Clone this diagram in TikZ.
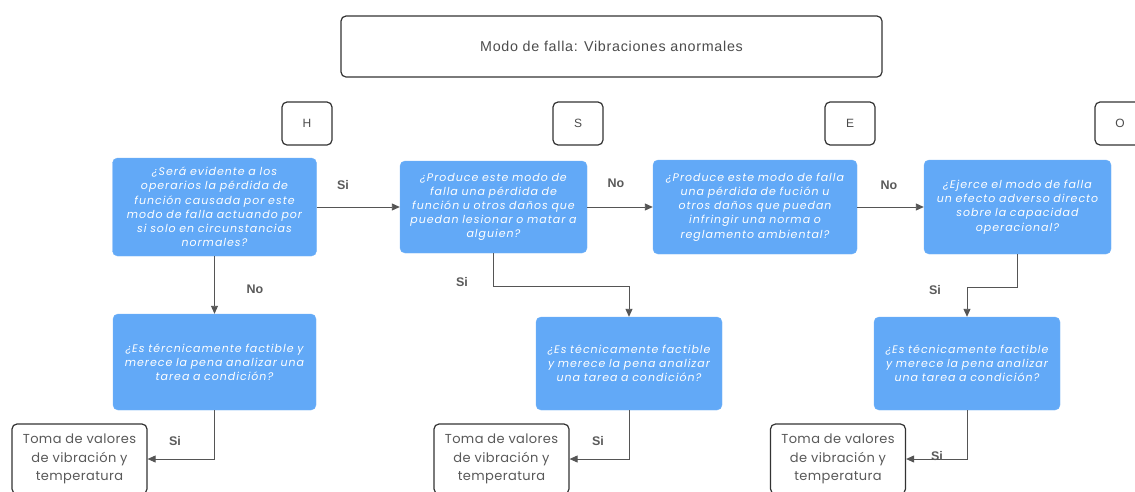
\documentclass[tikz,border=0pt]{standalone}
\usepackage{fontspec}
\setmainfont{Poppins}
\newfontfamily\qfont[LetterSpace=9]{Poppins}
\newfontfamily\rfont[LetterSpace=3]{Poppins}
\newfontfamily\titlefont[LetterSpace=5]{Liberation Sans}
\newfontfamily\tagfont{Liberation Sans}
\usetikzlibrary{arrows.meta}
\definecolor{qblue}{HTML}{62A9F7}
\definecolor{edge}{HTML}{333333}
\definecolor{wire}{HTML}{555555}
\definecolor{lbl}{HTML}{5A5A5A}
\begin{document}
\begin{tikzpicture}[x=1pt,y=-1pt,
  question/.style={fill=qblue, draw=qblue!90!white, rounded corners=5pt, inner sep=0pt,
    align=center, text=white, font=\qfont\fontsize{11}{14.2}\selectfont\itshape},
  framebox/.style={draw=edge, line width=1.2pt, rounded corners=5pt, fill=white, inner sep=0pt,
    align=center},
  letterbox/.style={framebox, minimum width=50pt, minimum height=43pt,
    text=black!70, font=\titlefont\fontsize{12}{14}\selectfont},
  resultbox/.style={framebox, minimum width=135pt, minimum height=70pt,
    text=black!65, font=\rfont\fontsize{13}{18.8}\selectfont},
  wirearrow/.style={draw=wire, line width=0.9pt, -{Triangle[length=8pt,width=7pt]}},
  tag/.style={text=lbl, font=\tagfont\bfseries\fontsize{12.5}{14}\selectfont}]
\clip (0,0) rectangle (1135,491);
\useasboundingbox (0,0) rectangle (1135,491);
\fill[white] (0,0) rectangle (1135,491);

% header and category letters
\node[framebox, minimum width=541pt, minimum height=61pt, text=black!70,
  font=\titlefont\fontsize{14.3}{17}\selectfont] (title) at (611.5,46.5) {Modo de falla: Vibraciones anormales};
\node[letterbox] (H) at (307,123.5) {H};
\node[letterbox] (S) at (578,123.5) {S};
\node[letterbox] (E) at (850,123.5) {E};
\node[letterbox] (O) at (1120,123.5) {O};

% decision questions
\node[question, minimum width=204pt, minimum height=98pt, text width=200pt] (q1) at (214.5,207)
  {¿Será evidente a los\\operarios la pérdida de\\función causada por este\\modo de falla actuando por\\si solo en circunstancias\\normales?};
\node[question, minimum width=187pt, minimum height=92pt, text width=184pt] (q2) at (493.5,207)
  {¿Produce este modo de\\falla una pérdida de\\función u otros daños que\\puedan lesionar o matar a\\alguien?};
\node[question, minimum width=204pt, minimum height=94pt, text width=200pt] (q3) at (755,207)
  {¿Produce este modo de falla\\una pérdida de fución u\\otros daños que puedan\\infringir una norma o\\reglamento ambiental?};
\node[question, minimum width=187pt, minimum height=94pt, text width=184pt] (q4) at (1017.5,207)
  {¿Ejerce el modo de falla\\un efecto adverso directo\\sobre la capacidad\\operacional?};

% condition-based task questions
\node[question, minimum width=203pt, minimum height=96pt, text width=200pt] (t1) at (214.5,362)
  {¿Es tércnicamente factible y\\merece la pena analizar una\\tarea a condición?};
\node[question, minimum width=186pt, minimum height=93pt, text width=184pt] (t2) at (629,363.5)
  {¿Es técnicamente factible\\y merece la pena analizar\\una tarea a condición?};
\node[question, minimum width=186pt, minimum height=93pt, text width=184pt] (t3) at (967,363.5)
  {¿Es técnicamente factible\\y merece la pena analizar\\una tarea a condición?};

% resulting tasks
\node[resultbox] (r1) at (79.5,459) {Toma de valores\\de vibración y\\temperatura};
\node[resultbox] (r2) at (501.5,459) {Toma de valores\\de vibración y\\temperatura};
\node[resultbox] (r3) at (838,459) {Toma de valores\\de vibración y\\temperatura};

% connectors
\draw[wirearrow] (q1) -- (q2);
\draw[wirearrow] (q2) -- (q3);
\draw[wirearrow] (q3) -- (q4);
\draw[wirearrow] (q1) -- (t1);
\draw[wirearrow] (q2.south) -- ++(0,33) -| (t2.north);
\draw[wirearrow] (q4.south) -- ++(0,33) -| (t3.north);
\draw[wirearrow] (t1.south) |- (r1.east);
\draw[wirearrow] (t2.south) |- (r2.east);
\draw[wirearrow] (t3.south) |- (r3.east);

% branch labels
\node[tag] (l1) at (343,185) {Si};
\node[tag] (l2) at (616,183) {No};
\node[tag] (l3) at (889,185) {No};
\node[tag] (l4) at (255,289) {No};
\node[tag] (l5) at (462,282) {Si};
\node[tag] (l6) at (935,290) {Si};
\node[tag] (l7) at (175,441) {Si};
\node[tag] (l8) at (598,441) {Si};
\node[tag] (l9) at (937,456) {Si};
\end{tikzpicture}
\end{document}
